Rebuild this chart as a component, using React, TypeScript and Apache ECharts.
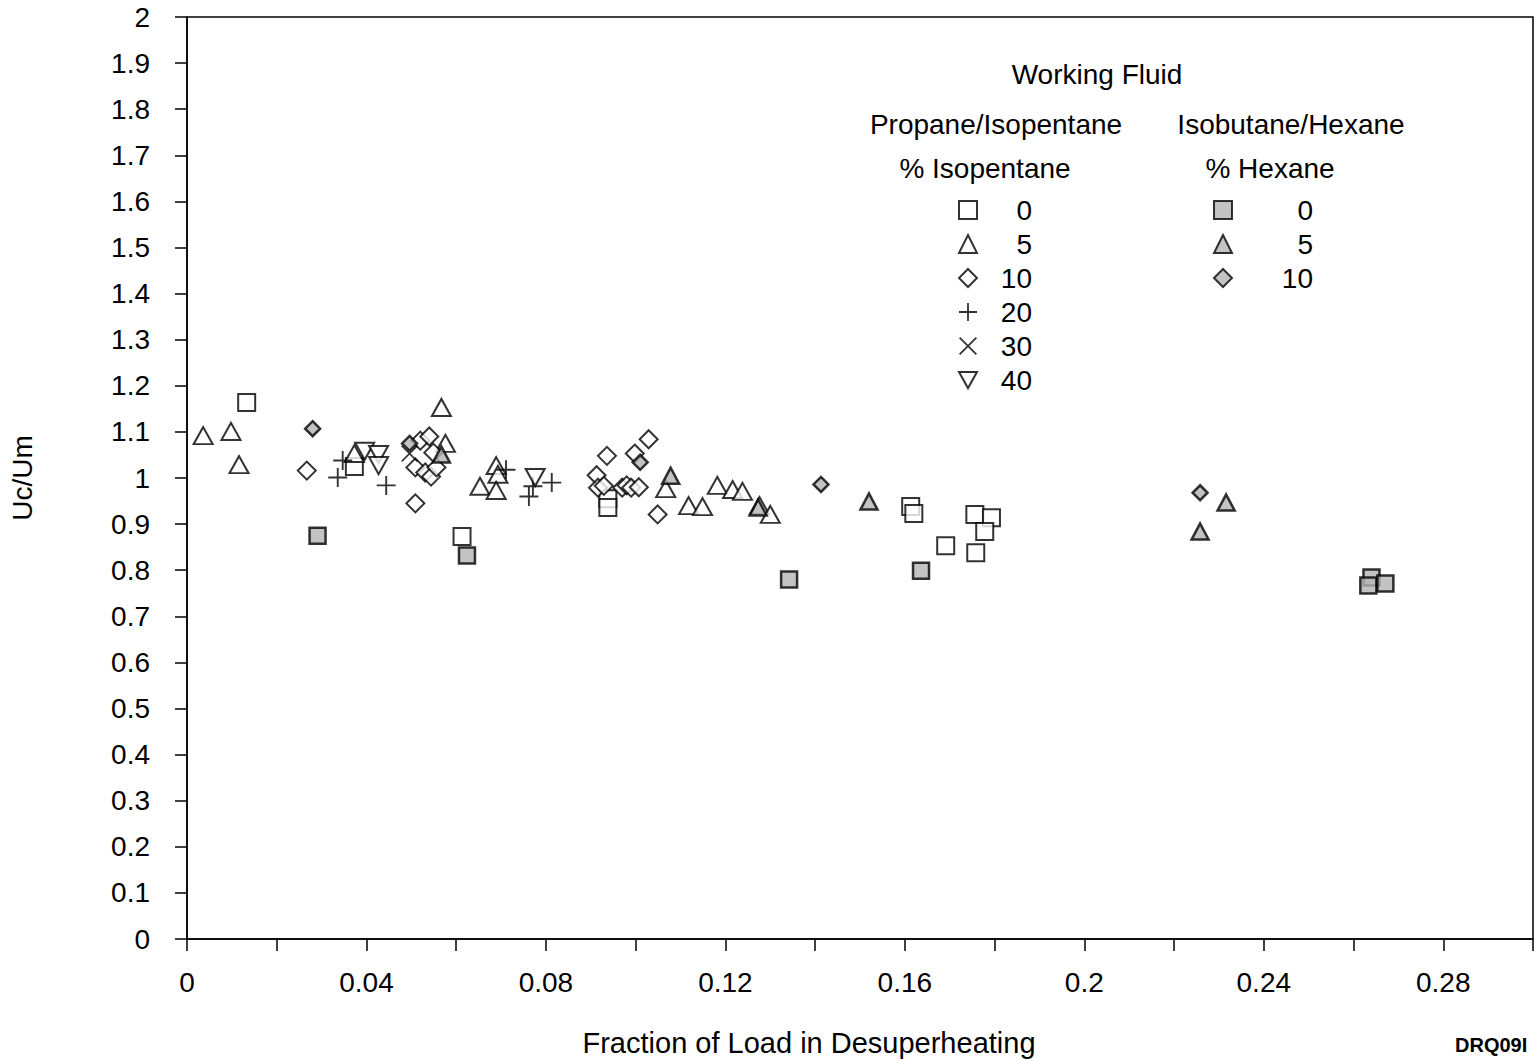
import React, { useEffect, useRef } from "react";
import * as echarts from "echarts";

// X: fraction of load in desuperheating, Y: Uc/Um
const isopentane0 = [
  [0.0133, 1.164], [0.0373, 1.025], [0.0613, 0.873], [0.0938, 0.955], [0.0938, 0.936],
  [0.1613, 0.938], [0.162, 0.923], [0.1691, 0.853], [0.1756, 0.921], [0.1793, 0.914],
  [0.1778, 0.884], [0.1758, 0.838],
];
const isopentane5 = [
  [0.0036, 1.092], [0.0098, 1.101], [0.0116, 1.029], [0.0567, 1.153], [0.0373, 1.053],
  [0.0576, 1.075], [0.0653, 0.982], [0.0689, 1.027], [0.0693, 1.008], [0.0689, 0.973],
  [0.1067, 0.977], [0.1118, 0.94], [0.1149, 0.938], [0.1182, 0.984], [0.1216, 0.975],
  [0.1238, 0.971], [0.1276, 0.94], [0.13, 0.921],
];
const isopentane10 = [
  [0.0267, 1.016], [0.0509, 0.945], [0.052, 1.081], [0.054, 1.09], [0.0549, 1.055],
  [0.0509, 1.023], [0.0531, 1.012], [0.0544, 1.003], [0.0556, 1.023],
  [0.0913, 1.006], [0.0916, 0.979], [0.0929, 0.983], [0.097, 0.979], [0.098, 0.984],
  [0.099, 0.979], [0.1007, 0.98], [0.0998, 1.053], [0.1029, 1.084], [0.1049, 0.921],
  [0.0936, 1.048],
];
const isopentane20 = [
  [0.0336, 1.001], [0.0347, 1.038], [0.0444, 0.984], [0.0711, 1.018], [0.0762, 0.96],
  [0.0813, 0.99], [0.0771, 0.982],
];
const isopentane30 = [[0.0496, 1.053]];
const isopentane40 = [[0.0396, 1.058], [0.0427, 1.051], [0.0427, 1.027], [0.0776, 1.001]];

const hexane0 = [
  [0.0291, 0.875], [0.0624, 0.832], [0.1342, 0.78], [0.1636, 0.799], [0.264, 0.784],
  [0.2633, 0.767], [0.2671, 0.771],
];
const hexane5 = [
  [0.0567, 1.051], [0.1078, 1.005], [0.1273, 0.936], [0.152, 0.949], [0.2258, 0.884],
  [0.2316, 0.947],
];
const hexane10 = [
  [0.028, 1.107], [0.0496, 1.075], [0.101, 1.034], [0.1413, 0.986], [0.2258, 0.968],
];

const propaneNames = ["P0", "P5", "P10", "P20", "P30", "P40"];
const hexaneNames = ["H0", "H5", "H10"];
const legendLabels: Record<string, string> = {
  P0: "0", P5: "5", P10: "10", P20: "20", P30: "30", P40: "40",
  H0: "0", H5: "5", H10: "10",
};

const FONT = "Liberation Sans, Arial, Helvetica, sans-serif";
const PLUS = "path://M9,0H11V20H9ZM0,9H20V11H0Z";
const CROSS = "path://M0,1.4L1.4,0L10,8.6L18.6,0L20,1.4L11.4,10L20,18.6L18.6,20L10,11.4L1.4,20L0,18.6L8.6,10Z";
const INV_TRI = "path://M0,0L20,0L10,18Z";

const openStyle = { color: "#ffffff", borderColor: "#000000", borderWidth: 2 };
const filledStyle = { color: "#b4b4b4", borderColor: "#000000", borderWidth: 2.5 };

export default function App() {
  const ref = useRef<HTMLDivElement>(null);
  useEffect(() => {
    if (!ref.current) return;
    const chart = echarts.init(ref.current, undefined, { renderer: "svg" });
    const series: any[] = [
      { name: "P0", type: "scatter", data: isopentane0, symbol: "rect", symbolSize: 17, itemStyle: openStyle },
      { name: "P5", type: "scatter", data: isopentane5, symbol: "triangle", symbolSize: [19, 17], itemStyle: openStyle },
      { name: "P10", type: "scatter", data: isopentane10, symbol: "diamond", symbolSize: 18, itemStyle: openStyle },
      { name: "P20", type: "scatter", data: isopentane20, symbol: PLUS, symbolSize: 19, itemStyle: { color: "#000" } },
      { name: "P30", type: "scatter", data: isopentane30, symbol: CROSS, symbolSize: 17, itemStyle: { color: "#000" } },
      { name: "P40", type: "scatter", data: isopentane40, symbol: INV_TRI, symbolSize: [19, 17], itemStyle: openStyle },
      { name: "H0", type: "scatter", data: hexane0, symbol: "rect", symbolSize: 16, itemStyle: filledStyle },
      { name: "H5", type: "scatter", data: hexane5, symbol: "triangle", symbolSize: [17, 16], itemStyle: filledStyle },
      { name: "H10", type: "scatter", data: hexane10, symbol: "diamond", symbolSize: 15, itemStyle: filledStyle },
    ];
    const legendBase = {
      orient: "vertical",
      top: 196,
      padding: 0,
      itemWidth: 18,
      itemHeight: 18,
      itemGap: 6,
      selectedMode: false,
      formatter: (n: string) => `{v|${legendLabels[n]}}`,
    };
    chart.setOption({
      animation: false,
      backgroundColor: "#ffffff",
      textStyle: { fontFamily: FONT },
      grid: {
        left: 187, right: 4, top: 17, bottom: 122,
        show: true, borderColor: "#000", borderWidth: 1.5, backgroundColor: "transparent",
      },
      xAxis: {
        type: "value", min: 0, max: 0.3, interval: 0.02,
        name: "Fraction of Load in Desuperheating",
        nameLocation: "middle", nameGap: 89,
        nameTextStyle: { fontSize: 29, color: "#000", fontFamily: FONT, padding: [0, 102, 0, 0] },
        axisLine: { show: true, onZero: false, lineStyle: { color: "#000", width: 1.5 } },
        axisTick: { show: true, length: 12, lineStyle: { color: "#000", width: 1.5 } },
        splitLine: { show: false },
        axisLabel: {
          margin: 29, fontSize: 28, color: "#000", fontFamily: FONT,
          formatter: (v: number) => (Math.round(v * 100) % 4 === 0 ? String(Math.round(v * 100) / 100) : ""),
        },
      },
      yAxis: {
        type: "value", min: 0, max: 2, interval: 0.1,
        name: "Uc/Um", nameLocation: "middle", nameGap: 151, nameRotate: 90,
        nameTextStyle: { fontSize: 28, color: "#000", fontFamily: FONT },
        axisLine: { show: true, onZero: false, lineStyle: { color: "#000", width: 1.5 } },
        axisTick: { show: true, length: 12, lineStyle: { color: "#000", width: 1.5 } },
        splitLine: { show: false },
        axisLabel: {
          margin: 37, fontSize: 28, color: "#000", fontFamily: FONT,
          formatter: (v: number) => String(Math.round(v * 10) / 10),
        },
      },
      legend: [
        {
          ...legendBase,
          left: 958,
          data: propaneNames,
          textStyle: { rich: { v: { width: 50, align: "right", fontSize: 28, lineHeight: 30, color: "#000", fontFamily: FONT } } },
        },
        {
          ...legendBase,
          left: 1213,
          data: hexaneNames,
          textStyle: { rich: { v: { width: 76, align: "right", fontSize: 28, lineHeight: 30, color: "#000", fontFamily: FONT } } },
        },
      ],
      graphic: [
        { type: "text", x: 1097, y: 74, style: { text: "Working Fluid", fontSize: 28, fontFamily: FONT, fill: "#000", textAlign: "center", textVerticalAlign: "middle" } },
        { type: "text", x: 996, y: 124, style: { text: "Propane/Isopentane", fontSize: 28, fontFamily: FONT, fill: "#000", textAlign: "center", textVerticalAlign: "middle" } },
        { type: "text", x: 1291, y: 124, style: { text: "Isobutane/Hexane", fontSize: 28, fontFamily: FONT, fill: "#000", textAlign: "center", textVerticalAlign: "middle" } },
        { type: "text", x: 985, y: 168, style: { text: "% Isopentane", fontSize: 28, fontFamily: FONT, fill: "#000", textAlign: "center", textVerticalAlign: "middle" } },
        { type: "text", x: 1270, y: 168, style: { text: "% Hexane", fontSize: 28, fontFamily: FONT, fill: "#000", textAlign: "center", textVerticalAlign: "middle" } },
        { type: "text", x: 1455, y: 1045, style: { text: "DRQ09I", fontSize: 20, fontWeight: "bold", fontFamily: FONT, fill: "#000", textAlign: "left", textVerticalAlign: "middle" } },
      ],
      series,
    });
    return () => chart.dispose();
  }, []);
  return (
    <div
      ref={ref}
      style={{ position: "fixed", left: 0, top: 0, width: 1537, height: 1062, background: "#fff" }}
    />
  );
}
